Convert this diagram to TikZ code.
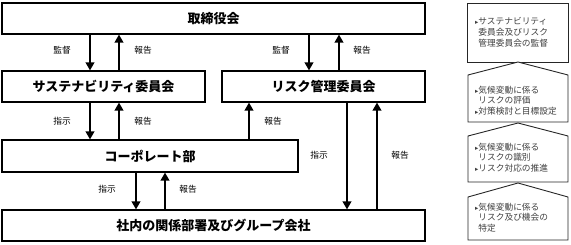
\documentclass[tikz,border=0pt]{standalone}
\usepackage{fontspec}
\setmainfont{Noto Sans CJK JP}
\newfontfamily\bulletfont{DejaVu Sans}
\usetikzlibrary{arrows.meta}
\newcommand{\bul}{{\bulletfont\fontsize{6.5}{6.5}\selectfont ▸}}
\newcommand{\ind}{\phantom{\bul}}
\begin{document}
\begin{tikzpicture}[x=1pt,y=1pt,
  box/.style={draw=black, line width=1.1pt, rectangle, inner sep=0pt, font=\fontsize{13}{15}\selectfont\bfseries},
  arr/.style={line width=2.6pt, -{Triangle[length=8pt,width=8.5pt]}},
  lbl/.style={font=\fontsize{8.7}{10}\selectfont, inner sep=0pt},
  panel/.style={draw=black!85, line width=0.9pt, fill=white},
  ptext/.style={font=\fontsize{8.7}{10.7}\selectfont, text=black!75, align=left, anchor=north west, inner sep=0pt}]
\useasboundingbox (0,0) rectangle (571,244);
% main boxes
\node[box, minimum width=423pt, minimum height=31pt] (board) at (213.5,225.5) {取締役会};
\node[box, minimum width=203pt, minimum height=31pt] (sust) at (103.5,157.5) {サステナビリティ委員会};
\node[box, minimum width=203pt, minimum height=31pt] (risk) at (323.5,157.5) {リスク管理委員会};
\node[box, minimum width=296pt, minimum height=32pt] (corp) at (150,88) {コーポレート部};
\node[box, minimum width=423pt, minimum height=31pt] (group) at (213.5,18.5) {社内の関係部署及びグループ会社};
% arrow columns
\coordinate (c90) at (90,0);
\coordinate (c119) at (119,0);
\coordinate (c309) at (309,0);
\coordinate (c339) at (339,0);
\coordinate (c249) at (249,0);
\coordinate (c347) at (347,0);
\coordinate (c377) at (377,0);
\coordinate (c136) at (136,0);
\coordinate (c165) at (165,0);
\draw[arr] (board.south -| c90) -- (sust.north -| c90);
\draw[arr] (sust.north -| c119) -- (board.south -| c119);
\draw[arr] (board.south -| c309) -- (risk.north -| c309);
\draw[arr] (risk.north -| c339) -- (board.south -| c339);
\draw[arr] (sust.south -| c90) -- (corp.north -| c90);
\draw[arr] (corp.north -| c119) -- (sust.south -| c119);
\draw[arr] (corp.north -| c249) -- (risk.south -| c249);
\draw[arr] (risk.south -| c347) -- (group.north -| c347);
\draw[arr] (group.north -| c377) -- (risk.south -| c377);
\draw[arr] (corp.south -| c136) -- (group.north -| c136);
\draw[arr] (group.north -| c165) -- (corp.south -| c165);
% labels
\node[lbl] (l1) at (62,194) {監督};
\node[lbl] (l2) at (143,194) {報告};
\node[lbl] (l3) at (281,194) {監督};
\node[lbl] (l4) at (362,194) {報告};
\node[lbl] (l5) at (62,123) {指示};
\node[lbl] (l6) at (143,123) {報告};
\node[lbl] (l7) at (273,123) {報告};
\node[lbl] (l8) at (107,55) {指示};
\node[lbl] (l9) at (188,55) {報告};
\node[lbl] (l10) at (319,89) {指示};
\node[lbl] (l11) at (400,89) {報告};
% right panels
\draw[panel] (467,241) rectangle (568,182);
\draw[panel] (468,169) -- (518,182) -- (568,169) -- (568,122) -- (468,122) -- cycle;
\draw[panel] (468,108) -- (518,121) -- (568,108) -- (568,62) -- (468,62) -- cycle;
\draw[panel] (468,47) -- (518,61) -- (568,47) -- (568,4) -- (468,4) -- cycle;
\node[ptext] (t1) at (475,226.5) {\bul サステナビリティ\\\ind 委員会及びリスク\\\ind 管理委員会の監督};
\node[ptext] (t2) at (475,158.5) {\bul 気候変動に係る\\\ind リスクの評価\\\bul 対策検討と目標設定};
\node[ptext] (t3) at (475,101.5) {\bul 気候変動に係る\\\ind リスクの識別\\\bul リスク対応の推進};
\node[ptext] (t4) at (475,41.5) {\bul 気候変動に係る\\\ind リスク及び機会の\\\ind 特定};
\end{tikzpicture}
\end{document}
